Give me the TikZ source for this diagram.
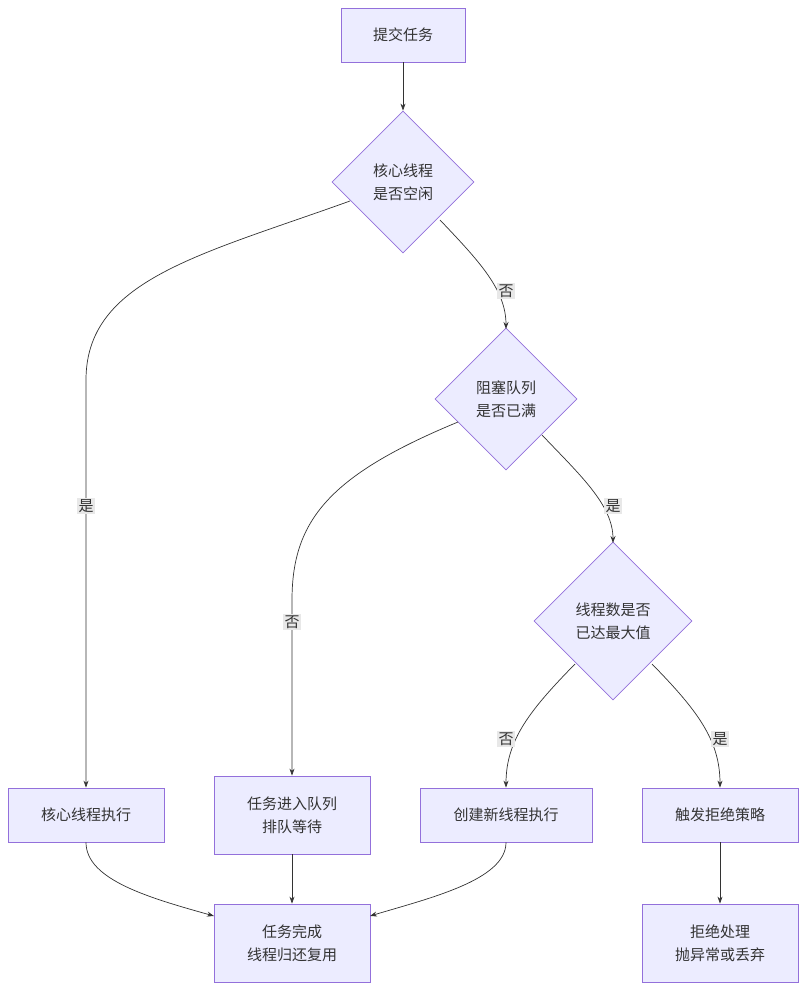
\documentclass[tikz,border=0pt]{standalone}
\usepackage{fontspec}
\setmainfont{Noto Sans CJK SC}
\usetikzlibrary{shapes.geometric,arrows.meta}
\definecolor{nfill}{HTML}{ECECFF}
\definecolor{nline}{HTML}{9370DB}
\definecolor{eline}{HTML}{333333}
\definecolor{lbg}{HTML}{E8E8E8}
\begin{document}
\begin{tikzpicture}[x=1pt,y=-1pt,
  box/.style={draw=nline,fill=nfill,line width=0.8pt,minimum width=#1,minimum height=54,inner sep=0pt,align=center,font=\fontsize{15}{23}\selectfont,text=black!80},
  box/.default=156,
  dia/.style={draw=nline,fill=nfill,line width=0.8pt,diamond,minimum width=#1,minimum height=#1,inner sep=0pt,align=center,font=\fontsize{15}{23}\selectfont,text=black!80},
  e/.style={draw=eline,line width=0.7pt,-{Stealth[length=7pt,width=5pt]}},
  lab/.style={fill=lbg,inner sep=1.5pt,font=\fontsize{15}{17}\selectfont,text=black!80}]
\useasboundingbox (0,0) rectangle (806,990);
\node[box=124] (a) at (403,35) {提交任务};
\node[dia=142] (d1) at (403,182) {核心线程\\是否空闲};
\node[dia=142] (d2) at (506,399) {阻塞队列\\是否已满};
\node[dia=158] (d3) at (613,621) {线程数是否\\已达最大值};
\node[box] (core) at (86,815) {核心线程执行};
\node[box,minimum height=78] (q) at (292,815) {任务进入队列\\排队等待};
\node[box=172] (c) at (506,815) {创建新线程执行};
\node[box] (r) at (720,815) {触发拒绝策略};
\node[box,minimum height=78] (done) at (292,943) {任务完成\\线程归还复用};
\node[box,minimum height=78] (rp) at (720,943) {拒绝处理\\抛异常或丢弃};
\draw[e] (a) -- (d1);
\draw[e] (350,201) .. controls (200,255) and (86,280) .. (86,380) -- (core.north);
\node[lab] at (86,506) {是};
\draw[e] (440,220) .. controls (480,262) and (506,290) .. (506,329);
\node[lab] at (506,291) {否};
\draw[e] (458,422) .. controls (330,475) and (292,520) .. (292,600) -- (q.north);
\node[lab] at (292,622) {否};
\draw[e] (542,435) .. controls (580,475) and (613,505) .. (613,543);
\node[lab] at (613,506) {是};
\draw[e] (575,664) .. controls (530,710) and (506,740) .. (c.north);
\node[lab] at (506,739) {否};
\draw[e] (652,664) .. controls (697,710) and (720,740) .. (r.north);
\node[lab] at (720,739) {是};
\draw[e] (core.south) .. controls (86,880) and (150,898) .. (214,916);
\draw[e] (q) -- (done);
\draw[e] (c.south) .. controls (506,880) and (430,898) .. (370,916);
\draw[e] (r) -- (rp);
\end{tikzpicture}
\end{document}
